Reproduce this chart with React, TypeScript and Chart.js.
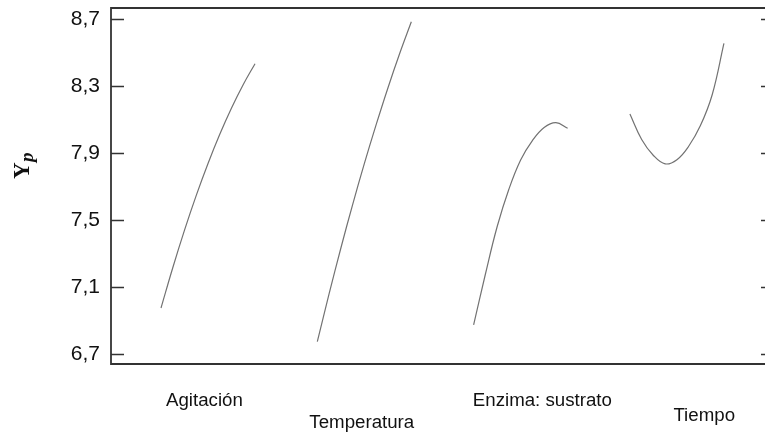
import { useEffect, useRef } from "react";
import { Chart, registerables } from "chart.js";

Chart.register(...registerables);

// Factor names shown under each effect curve
const factors = ["Agitación", "Temperatura", "Enzima: sustrato", "Tiempo"];

// Coded level of each factor (low → high)
const levels = [-1, -0.75, -0.5, -0.25, 0, 0.25, 0.5, 0.75, 1];

// Predicted response Yp along each factor
const agitacion = [6.976, 7.216, 7.44, 7.647, 7.837, 8.011, 8.168, 8.308, 8.432];
const temperatura = [6.775, 7.06, 7.332, 7.591, 7.836, 8.067, 8.286, 8.491, 8.682];
const enzimaSustrato = [6.875, 7.177, 7.46, 7.684, 7.858, 7.974, 8.052, 8.081, 8.047];
const tiempo = [8.132, 7.98, 7.885, 7.835, 7.86, 7.94, 8.063, 8.247, 8.553];

const yTicks = [6.7, 7.1, 7.5, 7.9, 8.3, 8.7];

const series = [agitacion, temperatura, enzimaSustrato, tiempo];

// Horizontal layout of the effect panels (in coded-level units)
const PANEL_STEP = 3.325;
const X_MIN = -2.064;
const X_MAX = 12.04;
const Y_MIN = 6.642;
const Y_MAX = 8.764;
// Label anchors relative to each panel centre, and their baseline below the axis
const LABEL_SHIFT = [-0.894, -1.17, -1.018, -0.075];
const LABEL_DROP = [42, 64, 42, 57];

const SANS = '"Liberation Sans", Arial, sans-serif';
const SERIF = '"Liberation Serif", "Times New Roman", serif';
const FRAME = "#333";
const TICK_LEN = 13;

const framePlugin = {
  id: "effectsFrame",
  afterDraw(chart: any) {
    const { ctx, chartArea, scales } = chart;
    const { left, right, top, bottom } = chartArea;
    const y = scales.y;
    const x = scales.x;
    ctx.save();

    // Box around the plotting area
    ctx.strokeStyle = FRAME;
    ctx.lineWidth = 1.8;
    ctx.beginPath();
    ctx.rect(left, top, right - left, bottom - top);
    ctx.stroke();

    // Inward tick marks on both vertical sides
    ctx.lineWidth = 1.6;
    ctx.beginPath();
    for (const v of yTicks) {
      const py = Math.round(y.getPixelForValue(v)) + 0.5;
      ctx.moveTo(left, py);
      ctx.lineTo(left + TICK_LEN, py);
      ctx.moveTo(right - TICK_LEN, py);
      ctx.lineTo(right, py);
    }
    ctx.stroke();

    // Factor names
    ctx.fillStyle = "#111";
    ctx.font = `18.7px ${SANS}`;
    ctx.textAlign = "left";
    ctx.textBaseline = "alphabetic";
    factors.forEach((name, i) => {
      const px = x.getPixelForValue(i * PANEL_STEP + LABEL_SHIFT[i]);
      ctx.fillText(name, px, bottom + LABEL_DROP[i]);
    });

    // Vertical axis title: Y with subscript p
    ctx.translate(29, 166);
    ctx.rotate(-Math.PI / 2);
    ctx.font = `bold 23px ${SERIF}`;
    const wY = ctx.measureText("Y").width;
    ctx.font = `bold italic 19px ${SERIF}`;
    const wP = ctx.measureText("p").width;
    const start = -(wY + wP) / 2;
    ctx.font = `bold 23px ${SERIF}`;
    ctx.fillText("Y", start, 0);
    ctx.font = `bold italic 19px ${SERIF}`;
    ctx.fillText("p", start + wY + 0.5, 4);

    ctx.restore();
  },
};

export default function App() {
  const canvasRef = useRef<HTMLCanvasElement | null>(null);

  useEffect(() => {
    const canvas = canvasRef.current;
    if (!canvas) return;

    const datasets = series.map((vals, i) => ({
      label: factors[i],
      data: vals.map((v, k) => ({ x: i * PANEL_STEP + levels[k], y: v })),
      borderColor: "#727272",
      borderWidth: 1.2,
      pointRadius: 0,
      tension: 0.4,
      fill: false,
    }));

    const chart = new Chart(canvas, {
      type: "line",
      data: { datasets },
      options: {
        animation: false,
        responsive: false,
        devicePixelRatio: 1,
        layout: { padding: { top: 8, right: 6, bottom: 68, left: 0 } },
        plugins: {
          legend: { display: false },
          tooltip: { enabled: false },
        },
        scales: {
          x: {
            type: "linear",
            min: X_MIN,
            max: X_MAX,
            display: false,
          },
          y: {
            type: "linear",
            min: Y_MIN,
            max: Y_MAX,
            afterBuildTicks: (scale: any) => {
              scale.ticks = yTicks.map((v) => ({ value: v }));
            },
            afterFit: (scale: any) => {
              scale.width = 111;
              scale.paddingTop = 0;
              scale.paddingBottom = 0;
            },
            grid: { display: false, drawTicks: false },
            border: { display: false },
            ticks: {
              padding: 11,
              color: "#111",
              font: { family: SANS, size: 21 },
              callback: (v: any) => Number(v).toFixed(1).replace(".", ","),
            },
          },
        },
      },
      plugins: [framePlugin],
    });

    return () => chart.destroy();
  }, []);

  return (
    <div
      style={{
        position: "fixed",
        left: 0,
        top: 0,
        width: 765,
        height: 432,
        overflow: "hidden",
        background: "#fff",
      }}
    >
      <canvas ref={canvasRef} width={780} height={432} style={{ display: "block", width: 780, height: 432 }} />
    </div>
  );
}
